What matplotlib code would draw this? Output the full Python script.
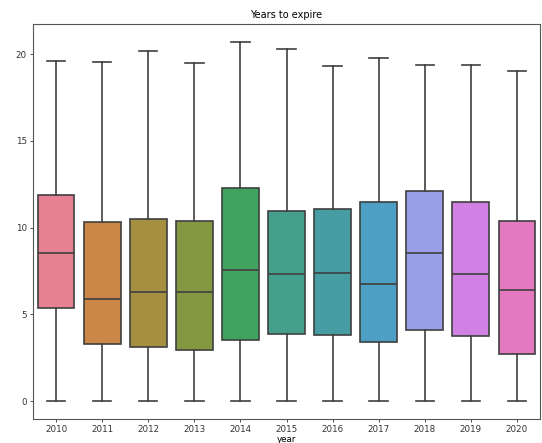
import matplotlib
matplotlib.use("Agg")
import matplotlib.pyplot as plt
import seaborn as sns

years = ["2010", "2011", "2012", "2013", "2014", "2015", "2016", "2017", "2018", "2019", "2020"]
whislo = [0, 0, 0, 0, 0, 0, 0, 0, 0, 0, 0]
q1 = [5.35, 3.3, 3.1, 2.95, 3.5, 3.85, 3.8, 3.4, 4.1, 3.75, 2.7]
med = [8.55, 5.9, 6.3, 6.3, 7.55, 7.3, 7.4, 6.75, 8.55, 7.35, 6.4]
q3 = [11.9, 10.3, 10.5, 10.4, 12.3, 10.95, 11.05, 11.45, 12.1, 11.5, 10.4]
whishi = [19.6, 19.55, 20.2, 19.5, 20.7, 20.3, 19.3, 19.8, 19.35, 19.4, 19.0]

stats = []
for i in range(len(years)):
    stats.append({"whislo": whislo[i], "q1": q1[i], "med": med[i], "q3": q3[i],
                  "whishi": whishi[i], "fliers": [], "label": years[i]})

colors = [sns.desaturate(c, 0.75) for c in sns.color_palette("husl", len(years))]
gray = "#3f3f3f"

plt.rcParams["font.size"] = 6.3
fig = plt.figure(figsize=(5.42, 4.43), dpi=100)
ax = fig.add_axes([33 / 542, 24 / 443, 507 / 542, 395 / 443])

lw = 1.2
bp = ax.bxp(stats, positions=range(len(years)), widths=0.8, patch_artist=True,
            showfliers=False,
            boxprops=dict(edgecolor=gray, linewidth=lw),
            whiskerprops=dict(color=gray, linewidth=lw),
            capprops=dict(color=gray, linewidth=lw),
            medianprops=dict(color=gray, linewidth=lw))
for patch, c in zip(bp["boxes"], colors):
    patch.set_facecolor(c)

# seaborn-style caps: half the box width
for cap in bp["caps"]:
    x = cap.get_xdata()
    mid = (x[0] + x[1]) / 2
    cap.set_xdata([mid - 0.2, mid + 0.2])

ax.set_xlim(-0.5, len(years) - 0.5)
ax.set_ylim(-1.035, 21.735)
ax.set_yticks([0, 5, 10, 15, 20])
ax.set_xlabel("year", labelpad=0.5)
ax.set_title("Years to expire", fontsize=7, pad=4)
for s in ax.spines.values():
    s.set_linewidth(0.8)
    s.set_color("#555555")
ax.tick_params(length=2.5, width=0.6, pad=2, colors="#333333")

fig.savefig("out.png", dpi=100)
